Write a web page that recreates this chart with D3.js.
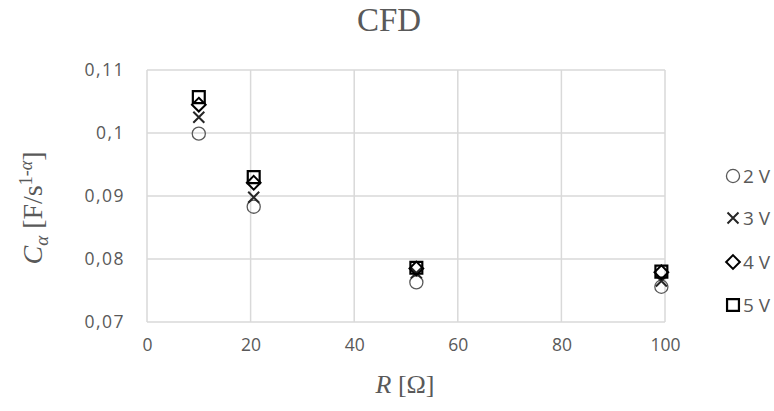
<!DOCTYPE html>
<html>
<head>
<meta charset="utf-8">
<script src="https://cdn.jsdelivr.net/npm/d3@7"></script>
<style>
  body { margin: 0; background: #fff; }
  .tick text { font-family: "Open Sans", sans-serif; font-size: 17.5px; fill: #595959; }
</style>
</head>
<body>
<script>
var resistance = [10, 20.6, 52, 99.3];
var seriesNames = ["2 V", "3 V", "4 V", "5 V"];
var v2 = [0.0999, 0.0883, 0.0763, 0.0756];
var v3 = [0.1025, 0.0898, 0.0778, 0.0765];
var v4 = [0.1045, 0.0921, 0.0785, 0.0779];
var v5 = [0.1057, 0.0930, 0.0786, 0.0780];
var xTicks = [0, 20, 40, 60, 80, 100];
var yTicks = [0.07, 0.08, 0.09, 0.1, 0.11];
var yTickLabels = ["0,07", "0,08", "0,09", "0,1", "0,11"];

var width = 774, height = 411;
var margin = {top: 70, right: 109, bottom: 89, left: 147};

var svg = d3.select("body").append("svg")
    .attr("width", width)
    .attr("height", height);

var x = d3.scaleLinear().domain([0, 100]).range([margin.left, width - margin.right]);
var y = d3.scaleLinear().domain([0.07, 0.11]).range([height - margin.bottom, margin.top]);

// gridlines
svg.append("g").selectAll("line.h")
    .data(yTicks)
  .enter().append("line")
    .attr("x1", x(0)).attr("x2", x(100))
    .attr("y1", function(d){ return y(d); })
    .attr("y2", function(d){ return y(d); })
    .style("stroke", "#d9d9d9").style("stroke-width", 1.5);
svg.append("g").selectAll("line.v")
    .data(xTicks)
  .enter().append("line")
    .attr("y1", y(0.07)).attr("y2", y(0.11))
    .attr("x1", function(d){ return x(d); })
    .attr("x2", function(d){ return x(d); })
    .style("stroke", "#d9d9d9").style("stroke-width", 1.5);

// axes (labels only)
var xAxis = svg.append("g")
    .attr("transform", "translate(0," + (y(0.07) + 7) + ")")
    .call(d3.axisBottom(x).tickValues(xTicks).tickSize(0).tickPadding(10));
var yAxis = svg.append("g")
    .attr("transform", "translate(" + (x(0) - 22) + ",0)")
    .call(d3.axisLeft(y).tickValues(yTicks).tickSize(0).tickPadding(0)
        .tickFormat(function(d, i){ return yTickLabels[i]; }));
svg.selectAll(".domain").remove();
yAxis.selectAll("text").attr("dy", "0.3em").style("letter-spacing", "1.5px");

// markers
var symbols = [
    {type: d3.symbolCircle, size: 135, color: "#595959", width: 1.3},
    {type: null, size: 0, color: "#262626", width: 2},
    {type: d3.symbolDiamond2 || d3.symbolDiamond, size: 120, color: "#000", width: 2},
    {type: d3.symbolSquare2 || d3.symbolSquare, size: 180, color: "#000", width: 2.2}
];
function xSym(){
    var s = 5.5;
    return "M" + (-s) + "," + (-s) + "L" + s + "," + s + "M" + (-s) + "," + s + "L" + s + "," + (-s);
}
function symPath(i){
    if (i === 1) return xSym();
    return d3.symbol().type(symbols[i].type).size(symbols[i].size)();
}

var series = [v2, v3, v4, v5];
series.forEach(function(vals, i){
    svg.append("g").selectAll("path")
        .data(vals)
      .enter().append("path")
        .attr("d", symPath(i))
        .attr("transform", function(d, j){
            return "translate(" + x(resistance[j]) + "," + y(d) + ")";
        })
        .style("fill", "none")
        .style("stroke", symbols[i].color)
        .style("stroke-width", symbols[i].width);
});

// legend
var legendY = [176, 218, 262, 305];
var legend = svg.append("g").selectAll("g")
    .data(seriesNames)
  .enter().append("g")
    .attr("transform", function(d, i){ return "translate(733," + legendY[i] + ")"; });
legend.append("path")
    .attr("d", function(d, i){ return symPath(i); })
    .style("fill", "none")
    .style("stroke", function(d, i){ return symbols[i].color; })
    .style("stroke-width", function(d, i){ return symbols[i].width; });
legend.append("text")
    .attr("x", 10).attr("dy", "0.36em")
    .text(function(d){ return d; })
    .style("font-family", "Open Sans, sans-serif")
    .style("font-size", "19px")
    .style("fill", "#595959");

// title
svg.append("text")
    .attr("x", 389).attr("y", 31)
    .attr("text-anchor", "middle")
    .style("font-family", "Liberation Serif, serif")
    .style("font-size", "33px")
    .style("fill", "#595959")
    .text("CFD");

// x label
var xl = svg.append("text")
    .attr("x", 405).attr("y", 393)
    .attr("text-anchor", "middle")
    .style("font-family", "Liberation Serif, serif")
    .style("font-size", "26px")
    .style("fill", "#595959");
xl.append("tspan").style("font-style", "italic").text("R");
xl.append("tspan").text(" [Ω]");

// y label
var yl = svg.append("text")
    .attr("transform", "translate(42,208) rotate(-90)")
    .attr("text-anchor", "middle")
    .style("font-family", "Liberation Serif, serif")
    .style("font-size", "28px")
    .style("fill", "#595959");
yl.append("tspan").style("font-style", "italic").text("C");
yl.append("tspan").style("font-style", "italic").style("font-size", "19px").attr("dy", 6).text("α");
yl.append("tspan").attr("dy", -6).text(" [F/s");
yl.append("tspan").style("font-size", "18px").attr("dy", -10).text("1-");
yl.append("tspan").style("font-size", "18px").style("font-style", "italic").text("α");
yl.append("tspan").attr("dy", 10).text("]");
</script>
</body>
</html>
